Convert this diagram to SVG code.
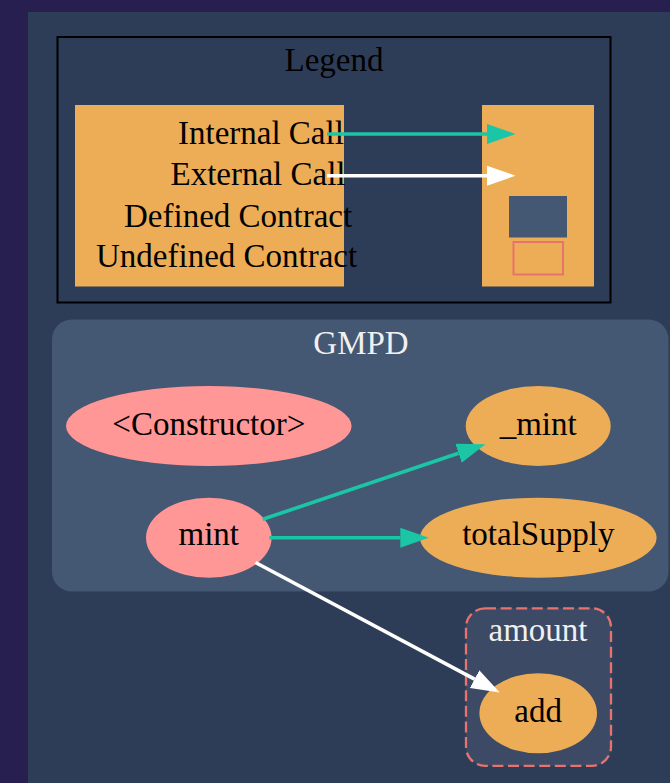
<svg xmlns="http://www.w3.org/2000/svg" width="670" height="783" viewBox="0 0 670 783">
  <style>
    text { font-family: "Liberation Serif", "Times New Roman", serif; font-size: 33px; }
    .dark { fill: #000000; }
    .light { fill: #f0f0f0; }
    .mid { text-anchor: middle; }
    .fn-pub { fill: #ff9797; }
    .fn { fill: #edad56; }
    .internal { stroke: #1bc6a6; stroke-width: 3.6; fill: none; }
    .external { stroke: #ffffff; stroke-width: 3.6; fill: none; }
  </style>
  <defs>
    <marker id="arrow-internal" markerUnits="userSpaceOnUse" markerWidth="30" markerHeight="22" refX="0" refY="11" orient="auto" viewBox="0 0 30 22">
      <path d="M0,1 L28.5,11 L0,21 z" fill="#1bc6a6"/>
    </marker>
    <marker id="arrow-external" markerUnits="userSpaceOnUse" markerWidth="30" markerHeight="22" refX="0" refY="11" orient="auto" viewBox="0 0 30 22">
      <path d="M0,1 L28.5,11 L0,21 z" fill="#ffffff"/>
    </marker>
  </defs>

  <!-- page and graph background -->
  <rect x="0" y="0" width="670" height="783" fill="#271f50"/>
  <rect x="28" y="12" width="642" height="771" fill="#2e3d57"/>

  <!-- legend cluster -->
  <g id="legend">
    <rect x="57.5" y="37" width="553" height="265.5" fill="none" stroke="#000000" stroke-width="2"/>
    <text class="dark mid" x="334" y="71">Legend</text>
    <rect x="75" y="105" width="269" height="181.5" fill="#edad56"/>
    <rect x="482" y="105" width="112" height="181.5" fill="#edad56"/>
    <text class="dark" x="178" y="144">Internal Call</text>
    <text class="dark" x="170.5" y="185">External Call</text>
    <text class="dark" x="124" y="226.5">Defined Contract</text>
    <text class="dark" x="96" y="267">Undefined Contract</text>
    <rect x="509" y="196" width="58" height="41.5" fill="#445773"/>
    <rect x="513.5" y="242" width="49.5" height="32.5" fill="none" stroke="#e8726d" stroke-width="2"/>
    <line class="internal" x1="327" y1="134" x2="487" y2="134" marker-end="url(#arrow-internal)"/>
    <line class="external" x1="327" y1="175.7" x2="487" y2="175.7" marker-end="url(#arrow-external)"/>
  </g>

  <!-- contract clusters -->
  <g id="cluster-GMPD">
    <rect x="52" y="319.5" width="616.5" height="272" rx="20" ry="20" fill="#445773"/>
    <text class="light mid" x="361" y="354.3">GMPD</text>
  </g>
  <g id="cluster-amount">
    <rect x="466" y="608.3" width="145" height="157.5" rx="19" ry="19" fill="#3c4a65" stroke="#e8726d" stroke-width="2.3" stroke-dasharray="11,4.6"/>
    <text class="light mid" x="538" y="640.7">amount</text>
  </g>

  <!-- function nodes -->
  <g id="node-constructor">
    <ellipse class="fn-pub" cx="208.8" cy="426" rx="142.8" ry="40"/>
    <text class="dark mid" x="208.8" y="435">&lt;Constructor&gt;</text>
  </g>
  <g id="node-mint">
    <ellipse class="fn-pub" cx="208.8" cy="537.7" rx="62.8" ry="40"/>
    <text class="dark mid" x="208.8" y="545">mint</text>
  </g>
  <g id="node-_mint">
    <ellipse class="fn" cx="538.2" cy="426" rx="72.5" ry="40"/>
    <text class="dark mid" x="538.2" y="435">_mint</text>
  </g>
  <g id="node-totalSupply">
    <ellipse class="fn" cx="538.3" cy="537.7" rx="118.3" ry="40"/>
    <text class="dark mid" x="538.3" y="545">totalSupply</text>
  </g>
  <g id="node-add">
    <ellipse class="fn" cx="538.2" cy="713.3" rx="58.8" ry="40"/>
    <text class="dark mid" x="538.2" y="722">add</text>
  </g>

  <!-- call edges -->
  <g id="edges">
    <line class="internal" x1="262.7" y1="519.3" x2="458.5" y2="453.3" marker-end="url(#arrow-internal)"/>
    <line class="internal" x1="269.3" y1="537.7" x2="400.3" y2="537.7" marker-end="url(#arrow-internal)"/>
    <line class="external" x1="255.5" y1="562.5" x2="474.6" y2="679.1" marker-end="url(#arrow-external)"/>
  </g>
</svg>
